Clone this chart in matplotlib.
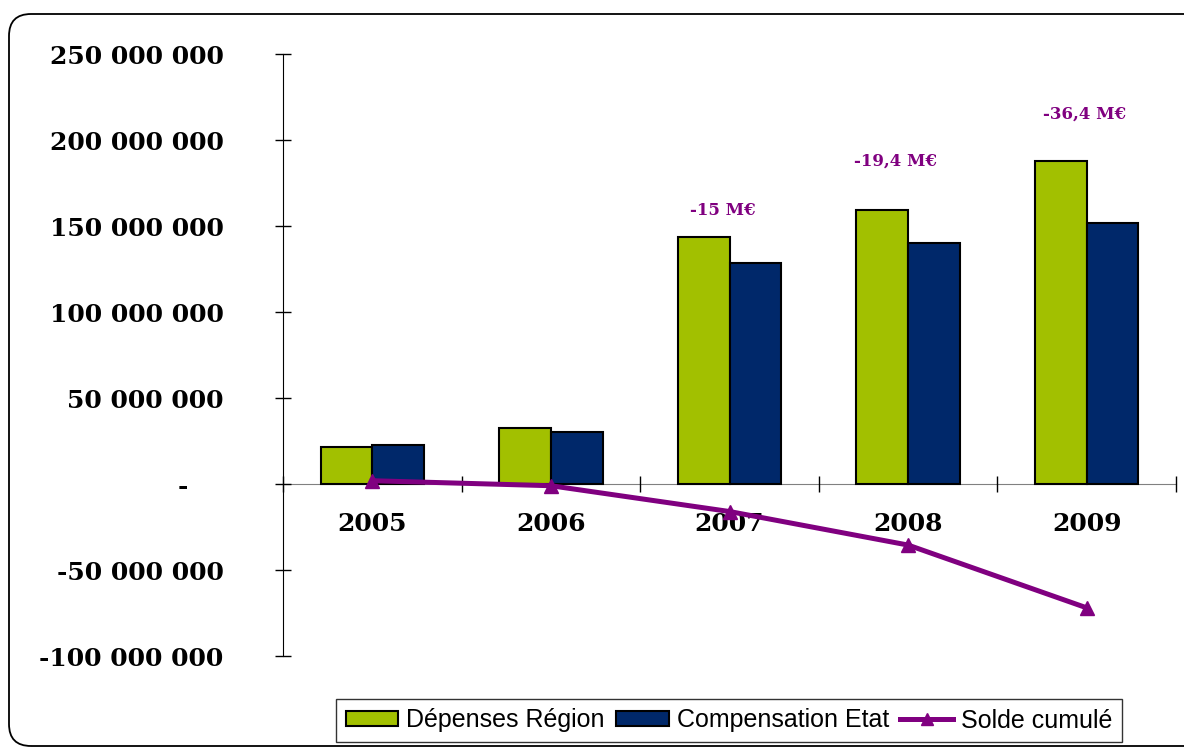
import numpy as np
import matplotlib
matplotlib.use("Agg")
import matplotlib.pyplot as plt
from matplotlib.patches import FancyBboxPatch, Patch
from matplotlib.lines import Line2D
from matplotlib.transforms import IdentityTransform

# data
years = ["2005", "2006", "2007", "2008", "2009"]
depenses = [21.3e6, 32.4e6, 143.4e6, 159.4e6, 188.0e6]
compensation = [22.5e6, 30.5e6, 128.2e6, 140.4e6, 151.7e6]
solde = [1.9e6, -1.0e6, -16.0e6, -35.5e6, -72.0e6]
ytick_vals = [-100e6, -50e6, 0, 50e6, 100e6, 150e6, 200e6, 250e6]
ytick_labels = ["-100 000 000", "-50 000 000", "-    ", "50 000 000", "100 000 000",
                "150 000 000", "200 000 000", "250 000 000"]
notes = ["-15 M€", "-19,4 M€", "-36,4 M€"]

green = "#A2C000"
navy = "#00286A"
purple = "#800080"

fig = plt.figure(figsize=(11.84, 7.47), dpi=100)
ax = fig.add_axes([283/1184, 1 - 656/747, (1176 - 283)/1184, (656 - 54)/747])

x = np.arange(len(years))
w = 0.29
ax.bar(x - w/2, depenses, w, color=green, edgecolor="black", linewidth=1.5, zorder=2)
ax.bar(x + w/2, compensation, w, color=navy, edgecolor="black", linewidth=1.5, zorder=2)
ax.plot(x, solde, color=purple, lw=3.6, marker="^", ms=10, zorder=4)

ax.set_xlim(-0.5, len(years) - 0.5)
ax.set_ylim(-100e6, 250e6)

for s in ["top", "right"]:
    ax.spines[s].set_visible(False)
ax.spines["bottom"].set_position(("data", 0))
ax.spines["bottom"].set_color("#808080")
ax.spines["bottom"].set_zorder(1)

serif = {"family": "DejaVu Serif", "weight": "bold"}
ax.set_yticks(ytick_vals)
ax.set_yticklabels(ytick_labels, fontdict=dict(serif, size=18))
ax.tick_params(axis="y", direction="inout", length=11.5, width=1, pad=37)

ax.set_xticks(x)
ax.set_xticklabels(years, fontdict=dict(serif, size=18))
ax.tick_params(axis="x", which="major", length=0, pad=20)
ax.set_xticks(np.arange(-0.5, len(years)), minor=True)
ax.tick_params(axis="x", which="minor", direction="inout", length=11.5, width=1, color="black")

# annual balance notes
note_xy = [(1.96, 159e6), (2.93, 188e6), (3.99, 215e6)]
for t, (nx, ny) in zip(notes, note_xy):
    ax.text(nx, ny, t, color=purple, ha="center", va="center",
            fontdict=dict(serif, size=12))

handles = [Patch(facecolor=green, edgecolor="black", linewidth=1.5),
           Patch(facecolor=navy, edgecolor="black", linewidth=1.5),
           Line2D([], [], color=purple, lw=3.6, marker="^", ms=9)]
leg = fig.legend(handles, ["Dépenses Région", "Compensation Etat", "Solde cumulé"],
                 loc="center", bbox_to_anchor=(729/1184, 1 - 720.5/747), ncol=3,
                 prop={"family": "Liberation Sans", "size": 18}, frameon=True,
                 fancybox=False, edgecolor="black", handlelength=2.1,
                 handleheight=0.55, handletextpad=0.33, columnspacing=0.45,
                 borderpad=0.37, borderaxespad=0)
leg.get_frame().set_linewidth(1)

# rounded outer frame
frame = FancyBboxPatch((9, 1), 1300, 732, boxstyle="round,pad=0,rounding_size=22",
                       transform=IdentityTransform(), fill=False,
                       edgecolor="black", linewidth=1.3)
fig.add_artist(frame)

fig.savefig("out.png", dpi=100)
